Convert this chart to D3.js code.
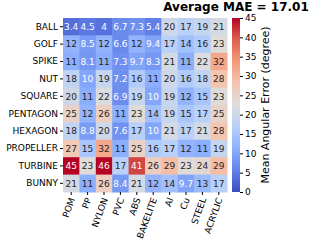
<!DOCTYPE html>
<html>
<head>
<meta charset="utf-8">
<script src="https://cdn.jsdelivr.net/npm/d3@7"></script>
<style>
  body { margin: 0; background: #fff; }
  text { font-family: "DejaVu Sans", sans-serif; }
</style>
</head>
<body>
<div id="chart"></div>
<script>
const objects = ['BALL', 'GOLF', 'SPIKE', 'NUT', 'SQUARE', 'PENTAGON', 'HEXAGON', 'PROPELLER', 'TURBINE', 'BUNNY'];
const materials = ['POM', 'PP', 'NYLON', 'PVC', 'ABS', 'BAKELITE', 'Al', 'Cu', 'STEEL', 'ACRYLIC'];

// one row per object, columns follow materials
const ball = [3.4, 4.5, 4, 6.7, 7.3, 5.4, 20, 17, 19, 21];
const golf = [12, 8.5, 12, 6.6, 12, 9.4, 17, 14, 16, 23];
const spike = [11, 8.1, 11, 7.3, 9.7, 8.3, 21, 11, 22, 32];
const nut = [18, 10, 19, 7.2, 16, 11, 20, 16, 18, 28];
const square = [20, 11, 22, 6.9, 19, 10, 19, 12, 15, 23];
const pentagon = [25, 12, 26, 11, 23, 14, 19, 15, 17, 25];
const hexagon = [18, 8.8, 20, 7.6, 17, 10, 21, 17, 21, 28];
const propeller = [27, 15, 32, 11, 25, 16, 17, 12, 11, 19];
const turbine = [45, 23, 46, 17, 41, 26, 29, 23, 24, 29];
const bunny = [21, 11, 26, 8.4, 21, 12, 14, 9.7, 13, 17];
const rows = [ball, golf, spike, nut, square, pentagon, hexagon, propeller, turbine, bunny];

const cbarTicks = [0, 5, 10, 15, 20, 25, 30, 35, 40, 45];
const title = 'Average MAE = 17.01';

const width = 317, height = 248;
const grid = { left: 63, top: 18, right: 227, bottom: 192 };

const svg = d3.select('#chart').append('svg')
  .attr('width', width)
  .attr('height', height);

const x = d3.scaleBand().domain(materials).range([grid.left, grid.right]);
const y = d3.scaleBand().domain(objects).range([grid.top, grid.bottom]);

// coolwarm
const cw = ['#3b4cc0', '#6282ea', '#8db0fe', '#b8d0f9', '#dddddd', '#f5c4ad', '#f49a7b', '#de604d', '#b40426'];
const color = d3.scaleLinear()
  .domain(d3.range(cw.length).map(i => 45 * i / (cw.length - 1)))
  .range(cw)
  .clamp(true);

const cells = [];
rows.forEach((r, i) => r.forEach((v, j) => cells.push({ obj: objects[i], mat: materials[j], v })));

svg.selectAll('rect.cell')
  .data(cells)
  .enter()
  .append('rect')
  .attr('class', 'cell')
  .attr('x', d => x(d.mat))
  .attr('y', d => y(d.obj))
  .attr('width', x.bandwidth() + 0.5)
  .attr('height', y.bandwidth() + 0.5)
  .attr('fill', d => color(d.v));

const lum = c => {
  const rgb = d3.rgb(c);
  const f = u => { u /= 255; return u <= 0.03928 ? u / 12.92 : Math.pow((u + 0.055) / 1.055, 2.4); };
  return 0.2126 * f(rgb.r) + 0.7152 * f(rgb.g) + 0.0722 * f(rgb.b);
};

svg.selectAll('text.annot')
  .data(cells)
  .enter()
  .append('text')
  .attr('class', 'annot')
  .attr('x', d => x(d.mat) + x.bandwidth() / 2)
  .attr('y', d => y(d.obj) + y.bandwidth() / 2)
  .attr('dy', '0.36em')
  .attr('text-anchor', 'middle')
  .style('font-size', '9px')
  .style('fill', d => lum(color(d.v)) > 0.408 ? '#262626' : '#ffffff')
  .text(d => d.v);

// y axis
const yAxis = svg.append('g')
  .attr('transform', `translate(${grid.left},0)`)
  .call(d3.axisLeft(y).tickSize(3).tickPadding(2));
yAxis.select('.domain').remove();
yAxis.selectAll('text').style('font-size', '9px').style('fill', '#000');

// x axis
const xAxis = svg.append('g')
  .attr('transform', `translate(0,${grid.bottom})`)
  .call(d3.axisBottom(x).tickSize(3).tickPadding(2));
xAxis.select('.domain').remove();
xAxis.selectAll('text')
  .style('font-size', '9px')
  .style('fill', '#000')
  .attr('x', 0)
  .attr('y', 0)
  .attr('dy', '0.35em')
  .attr('text-anchor', 'end')
  .attr('transform', 'translate(1,6) rotate(-70)');

// colorbar
const cb = { x: 232, w: 8 };
const cy = d3.scaleLinear().domain([0, 45]).range([grid.bottom, grid.top]);
const defs = svg.append('defs');
const grad = defs.append('linearGradient')
  .attr('id', 'cbar')
  .attr('x1', 0).attr('y1', 1).attr('x2', 0).attr('y2', 0);
grad.selectAll('stop')
  .data(cw)
  .enter()
  .append('stop')
  .attr('offset', (d, i) => i / (cw.length - 1))
  .attr('stop-color', d => d);

svg.append('rect')
  .attr('x', cb.x)
  .attr('y', grid.top)
  .attr('width', cb.w)
  .attr('height', grid.bottom - grid.top)
  .attr('fill', 'url(#cbar)');

const cAxis = svg.append('g')
  .attr('transform', `translate(${cb.x + cb.w},0)`)
  .call(d3.axisRight(cy).tickValues(cbarTicks).tickSize(3).tickPadding(2));
cAxis.select('.domain').remove();
cAxis.selectAll('text').style('font-size', '9px').style('fill', '#000');

svg.append('text')
  .attr('transform', `translate(269,${(grid.top + grid.bottom) / 2}) rotate(-90)`)
  .attr('text-anchor', 'middle')
  .style('font-size', '11px')
  .text('Mean Angular Error (degree)');

svg.append('text')
  .attr('x', 236)
  .attr('y', 11)
  .attr('text-anchor', 'middle')
  .style('font-size', '12px')
  .style('font-weight', 'bold')
  .text(title);
</script>
</body>
</html>
